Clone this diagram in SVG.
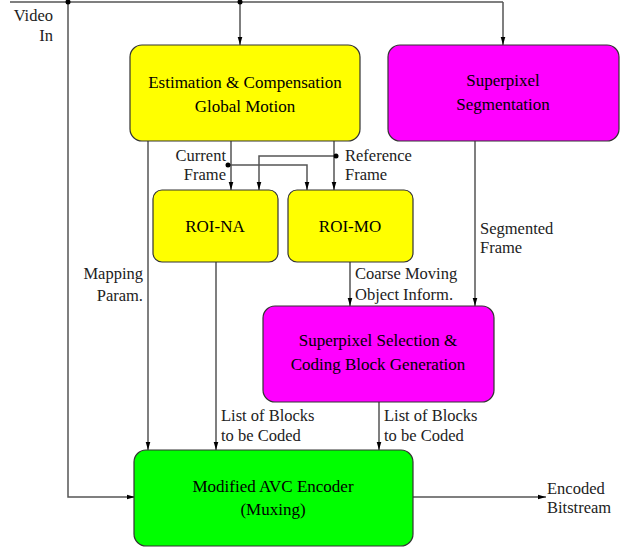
<svg xmlns="http://www.w3.org/2000/svg" width="621" height="548" viewBox="0 0 621 548">
<defs>
<marker id="ah" markerWidth="8" markerHeight="14" refX="14" refY="4" viewBox="0 0 14 8" markerUnits="userSpaceOnUse" orient="auto">
<path d="M0,0 L14,4 L0,8 Z" fill="#000"/>
</marker>
</defs>
<style>
.box{stroke:#333;stroke-width:1.2}
.y{fill:#ffff00}.m{fill:#ff00ff}.g{fill:#00ff00}
.t{font-family:"Liberation Serif","Times New Roman",serif;font-size:17px;fill:#000;text-anchor:middle}
.l{font-family:"Liberation Serif","Times New Roman",serif;font-size:16.5px;fill:#222}
.e{text-anchor:end}
.c line,.c path{stroke:#555;stroke-width:1.5;fill:none}
.c .a{marker-end:url(#ah)}
</style>
<g id="connectors" class="c">
<path d="M10,2 H503"/>
<path class="a" d="M240,2 V45"/>
<path class="a" d="M503,2 V45"/>
<path class="a" d="M68,2 V497 H135"/>
<path class="a" d="M148,141 V450"/>
<path class="a" d="M231,141 V190"/>
<path class="a" d="M228,165 H307 V190"/>
<path class="a" d="M334,141 V190"/>
<path class="a" d="M336,156 H259 V190"/>
<path class="a" d="M216,262 V450"/>
<path class="a" d="M350,262 V306"/>
<path class="a" d="M475,141 V306"/>
<path class="a" d="M379,402 V450"/>
<path class="a" d="M413,497 H546"/>
<circle cx="68" cy="2" r="2.5" fill="#000"/>
<circle cx="240" cy="2" r="2.5" fill="#000"/>
<circle cx="228" cy="165" r="2.5" fill="#000"/>
<circle cx="336" cy="156" r="2.5" fill="#000"/>
</g>
<g id="labels">
<text class="l e" x="53" y="21">Video</text>
<text class="l e" x="53" y="41">In</text>
<text class="l e" x="226" y="161">Current</text>
<text class="l e" x="226" y="180">Frame</text>
<text class="l" x="345" y="161">Reference</text>
<text class="l" x="345" y="180">Frame</text>
<text class="l e" x="143" y="279">Mapping</text>
<text class="l e" x="143" y="301">Param.</text>
<text class="l" x="480" y="234">Segmented</text>
<text class="l" x="480" y="253">Frame</text>
<text class="l" x="355" y="279">Coarse Moving</text>
<text class="l" x="355" y="300">Object Inform.</text>
<text class="l" x="221" y="421">List of Blocks</text>
<text class="l" x="221" y="441">to be Coded</text>
<text class="l" x="384" y="421">List of Blocks</text>
<text class="l" x="384" y="441">to be Coded</text>
<text class="l" x="547" y="494">Encoded</text>
<text class="l" x="547" y="513">Bitstream</text>
</g>
<g id="gme">
<rect class="box y" x="130" y="45" width="230" height="96" rx="12"/>
<text class="t" x="245" y="88">Estimation &amp; Compensation</text>
<text class="t" x="245" y="112">Global Motion</text>
</g>
<g id="seg">
<rect class="box m" x="388" y="45" width="231" height="96" rx="12"/>
<text class="t" x="503" y="86">Superpixel</text>
<text class="t" x="503" y="110">Segmentation</text>
</g>
<g id="roina">
<rect class="box y" x="153" y="190" width="125" height="72" rx="9"/>
<text class="t" x="215" y="232">ROI-NA</text>
</g>
<g id="roimo">
<rect class="box y" x="288" y="190" width="125" height="72" rx="9"/>
<text class="t" x="350" y="232">ROI-MO</text>
</g>
<g id="sel">
<rect class="box m" x="263" y="306" width="231" height="96" rx="12"/>
<text class="t" x="378" y="346">Superpixel Selection &amp;</text>
<text class="t" x="378" y="370">Coding Block Generation</text>
</g>
<g id="enc">
<rect class="box g" x="134" y="450" width="279" height="96" rx="12"/>
<text class="t" x="273" y="492">Modified AVC Encoder</text>
<text class="t" x="273" y="515">(Muxing)</text>
</g>
</svg>
